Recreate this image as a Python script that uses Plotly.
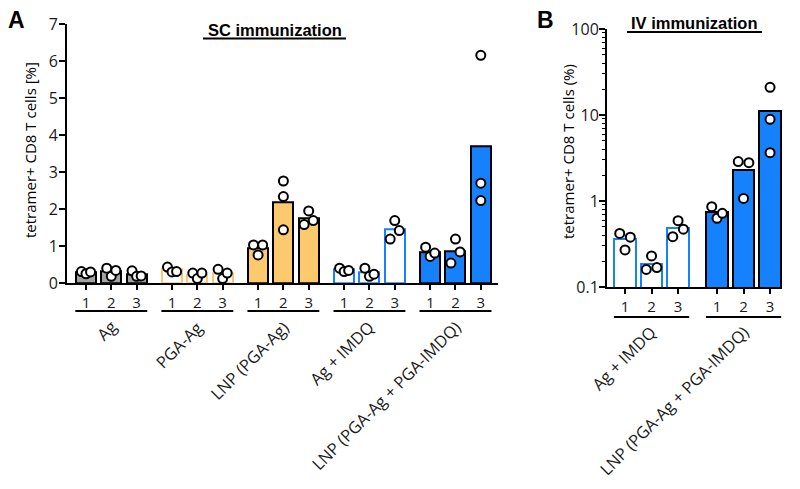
import plotly.graph_objects as go

# ---------------- data ----------------
sc_groups = ["Ag", "PGA-Ag", "LNP (PGA-Ag)", "Ag + IMDQ", "LNP (PGA-Ag + PGA-IMDQ)"]
sc_bar_labels = ["1", "2", "3"]
sc_means = [
    [0.28, 0.31, 0.24],
    [0.36, 0.22, 0.27],
    [0.95, 2.18, 1.76],
    [0.36, 0.30, 1.44],
    [0.84, 0.86, 3.69],
]
sc_points = [
    [[0.31, 0.25, 0.30], [0.40, 0.18, 0.34], [0.33, 0.18, 0.19]],
    [[0.43, 0.30, 0.31], [0.27, 0.12, 0.27], [0.37, 0.12, 0.27]],
    [[1.03, 0.76, 1.03], [2.76, 2.34, 1.44], [1.95, 1.58, 1.69]],
    [[0.40, 0.31, 0.34], [0.40, 0.18, 0.24], [1.69, 1.19, 1.42]],
    [[0.97, 0.72, 0.81], [1.19, 0.54, 0.84], [6.16, 2.70, 2.23]],
]
# horizontal spread slot of each dot (-1 left, 0 centre, 1 right)
sc_spread = [
    [[-1, 0, 1], [-1, 0, 1], [-1, 0, 1]],
    [[-1, 0, 1], [-1, 0, 1], [-1, 0, 1]],
    [[-1, 0, 1], [0, 0, 0], [0, -1, 1]],
    [[-1, 0, 1], [-1, 0, 1], [0, -1, 1]],
    [[-1, 0, 1], [0, -1, 1], [0, 0, 0]],
]

iv_groups = ["Ag + IMDQ", "LNP (PGA-Ag + PGA-IMDQ)"]
iv_bar_labels = ["1", "2", "3"]
iv_means = [
    [0.358, 0.185, 0.48],
    [0.74, 2.29, 11.1],
]
iv_points = [
    [[0.42, 0.38, 0.27], [0.23, 0.16, 0.168], [0.59, 0.385, 0.47]],
    [[0.86, 0.63, 0.72], [2.87, 2.79, 1.07], [21.0, 8.9, 3.65]],
]
iv_spread = [
    [[-1, 1, 0], [0, -1, 1], [0, -1, 1]],
    [[-1, 0, 1], [-1, 1, 0], [0, 0, 0]],
]

# ---------------- styles ----------------
GREY = "#A3A3A3"
ORANGE = "#FCCA6C"
BLUE = "#1581FC"
sc_styles = [
    dict(fill=GREY, line="black", lw=2),
    dict(fill="white", line=ORANGE, lw=2),
    dict(fill=ORANGE, line="black", lw=2),
    dict(fill="white", line=BLUE, lw=2),
    dict(fill=BLUE, line="black", lw=2),
]
iv_styles = [
    dict(fill="white", line=BLUE, lw=2),
    dict(fill=BLUE, line="black", lw=2),
]

W, H = 800, 489
OFF = 8  # page body margin of the rendered html
def px(x):
    return (x - OFF) / W
def py(y):
    return 1 - (y - OFF) / H

TXT = "#1a1a1a"
TICKFONT = dict(family="Open Sans", size=15, color=TXT)
YTICKFONT = dict(family="Open Sans", size=16, color=TXT)
fig = go.Figure()

def add_panel(groups, means, points, spread, styles, gstep, xa, ya, jit, bw):
    positions = []
    for g, name in enumerate(groups):
        pos = [g * gstep + i for i in range(len(means[g]))]
        positions.append(pos)
        st = styles[g]
        fig.add_trace(go.Bar(
            x=pos, y=means[g], width=bw, xaxis=xa, yaxis=ya,
            marker=dict(color=st["fill"], line=dict(color=st["line"], width=st["lw"])),
            showlegend=False, hoverinfo="skip"))
        xs, ys = [], []
        for i, p in enumerate(pos):
            for v, s in zip(points[g][i], spread[g][i]):
                xs.append(p + s * jit)
                ys.append(v)
        fig.add_trace(go.Scatter(
            x=xs, y=ys, mode="markers", xaxis=xa, yaxis=ya, cliponaxis=False,
            marker=dict(size=9, color="white", line=dict(color="black", width=2)),
            showlegend=False, hoverinfo="skip"))
    return positions

posA = add_panel(sc_groups, sc_means, sc_points, sc_spread, sc_styles, 3.4, "x", "y", 0.18, 0.79)
posB = add_panel(iv_groups, iv_means, iv_points, iv_spread, iv_styles, 3.47, "x2", "y2", 0.2, 0.82)

flatA = [p for g in posA for p in g]
flatB = [p for g in posB for p in g]
labA = [sc_bar_labels[i] for g in posA for i in range(len(g))]
labB = [iv_bar_labels[i] for g in posB for i in range(len(g))]

axis_common = dict(showgrid=False, zeroline=False, showline=True, linecolor="black",
                   linewidth=2, ticks="outside", tickcolor="black", mirror=False, automargin=False)

fig.update_layout(
    template="none",
    width=W, height=H, margin=dict(l=0, r=0, t=0, b=0, pad=0, autoexpand=False),
    plot_bgcolor="white", paper_bgcolor="white", bargap=0,
    xaxis=dict(domain=[px(67), px(498)], range=[-0.75, 16.28], tickvals=flatA, ticktext=labA,
               ticklen=5, tickwidth=1.5, tickfont=TICKFONT, anchor="y", **axis_common),
    yaxis=dict(domain=[py(283), py(24.3)], range=[0, 7], dtick=1, ticklen=6, tickwidth=1.5,
               tickfont=YTICKFONT, anchor="x", ticklabelstandoff=-2, **axis_common),
    xaxis2=dict(domain=[px(607), px(782)], range=[-0.68, 5.92], tickvals=flatB, ticktext=labB,
                ticklen=5, tickwidth=1.5, tickfont=TICKFONT, anchor="y2", **axis_common),
    yaxis2=dict(domain=[py(287), py(29)], type="log", range=[-1, 2], dtick=1, ticklen=6, tickwidth=1.5,
                tickfont=YTICKFONT, anchor="x2", ticklabelstandoff=-3,
                minor=dict(ticks="outside", ticklen=3, tickwidth=1, tickcolor="black", dtick="D1"),
                **axis_common),
)

shapes = []
annotations = []

def group_decor(positions, groups, xref, line_y, label_y, label_dx):
    for pos, name in zip(positions, groups):
        shapes.append(dict(type="line", xref=xref, yref="paper", x0=pos[0] - 0.42, x1=pos[-1] + 0.42,
                           y0=py(line_y), y1=py(line_y), line=dict(color="black", width=2)))
        c = (pos[0] + pos[-1]) / 2
        annotations.append(dict(text=name, xref=xref, yref="paper", x=c + label_dx, y=py(label_y),
                                xanchor="right", yanchor="top", textangle=-45, showarrow=False,
                                font=dict(family="Open Sans", size=16.5, color=TXT)))

group_decor(posA, sc_groups, "x", 311, 313, 0.5)
group_decor(posB, iv_groups, "x2", 317, 318, 0.48)

# titles with underline
annotations.append(dict(text="<b>SC immunization</b>", xref="paper", yref="paper", x=px(275), y=py(30),
                        xanchor="center", yanchor="middle", showarrow=False,
                        font=dict(family="Liberation Sans", size=16.5, color="black")))
shapes.append(dict(type="line", xref="paper", yref="paper", x0=px(203), x1=px(346), y0=py(38.5), y1=py(38.5),
                   line=dict(color="black", width=2)))
annotations.append(dict(text="<b>IV immunization</b>", xref="paper", yref="paper", x=px(694.5), y=py(23),
                        xanchor="center", yanchor="middle", showarrow=False,
                        font=dict(family="Liberation Sans", size=16.5, color="black")))
shapes.append(dict(type="line", xref="paper", yref="paper", x0=px(627), x1=px(762), y0=py(32), y1=py(32),
                   line=dict(color="black", width=2)))

# panel letters
annotations.append(dict(text="<b>A</b>", xref="paper", yref="paper", x=px(16), y=py(20),
                        xanchor="center", yanchor="middle", showarrow=False,
                        font=dict(family="Liberation Sans", size=23, color="black")))
annotations.append(dict(text="<b>B</b>", xref="paper", yref="paper", x=px(545), y=py(20),
                        xanchor="center", yanchor="middle", showarrow=False,
                        font=dict(family="Liberation Sans", size=23, color="black")))

# y axis titles
annotations.append(dict(text="tetramer+ CD8 T cells [%]", xref="paper", yref="paper", x=px(30), y=py(150),
                        xanchor="center", yanchor="middle", textangle=-90, showarrow=False,
                        font=dict(family="Open Sans", size=15, color="black")))
annotations.append(dict(text="tetramer+ CD8 T cells (%)", xref="paper", yref="paper", x=px(568), y=py(152),
                        xanchor="center", yanchor="middle", textangle=-90, showarrow=False,
                        font=dict(family="Open Sans", size=15, color="black")))

fig.update_layout(shapes=shapes, annotations=annotations)
fig.write_html("out.html")
